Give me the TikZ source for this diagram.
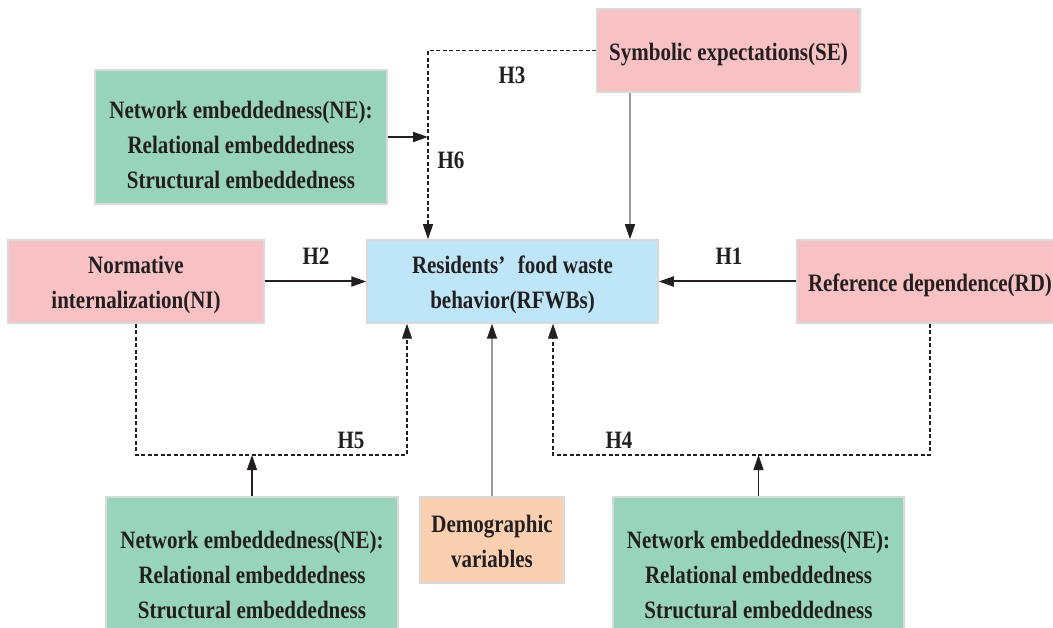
\documentclass[tikz,border=0pt]{standalone}
\usepackage{fontspec}
\usepackage{graphicx}
\setmainfont{Liberation Serif}
\usetikzlibrary{arrows.meta}
\definecolor{pinkbox}{HTML}{F8C1C3}
\definecolor{greenbox}{HTML}{98D4BC}
\definecolor{bluebox}{HTML}{BEE5F8}
\definecolor{orangebox}{HTML}{FBD0B1}
\definecolor{boxline}{HTML}{D9D9D9}
\definecolor{txt}{HTML}{231F20}
\definecolor{grayline}{HTML}{9A9A9A}
\newcommand{\narrowtext}[2][-3pt]{\raisebox{#1}[\height][\depth]{\scalebox{0.84}[1]{\begin{tabular}{@{}c@{}}#2\end{tabular}}}}
\begin{document}
\begin{tikzpicture}[x=1pt,y=-1pt,
  box/.style={draw=boxline,line width=1.5pt,align=center,inner sep=0pt,text=txt,
    font=\fontsize{25}{35}\selectfont\bfseries},
  lab/.style={text=txt,inner sep=0pt,font=\fontsize{25}{30}\selectfont\bfseries},
  tip/.style={-{Triangle[length=15pt,width=10pt,color=txt]}},
  solidarrow/.style={tip,line width=2pt,draw=txt},
  grayarrow/.style={tip,line width=1.5pt,draw=grayline},
  dasharrow/.style={tip,line width=1.2pt,draw=txt,dash pattern=on 4pt off 2.5pt},
  thinline/.style={tip,line width=1.2pt,draw=txt}]
\useasboundingbox (0,0) rectangle (1053,628);
% boxes
\node[box,fill=pinkbox,minimum width=263pt,minimum height=83pt] (SE) at (728.5,50.5) {\narrowtext{Symbolic expectations(SE)}};
\node[box,fill=greenbox,minimum width=292pt,minimum height=134pt] (NEtop) at (241,137) {\narrowtext[-10pt]{Network embeddedness(NE):\\Relational embeddedness\\Structural embeddedness}};
\node[box,fill=pinkbox,minimum width=256pt,minimum height=83pt] (NI) at (136,281.5) {\narrowtext{Normative\\internalization(NI)}};
\node[box,fill=bluebox,minimum width=291pt,minimum height=83pt] (RF) at (512.5,281.5) {\narrowtext{Residents’\hspace{0.6em}food waste\\behavior(RFWBs)}};
\node[box,fill=pinkbox,minimum width=266pt,minimum height=83pt] (RD) at (930,281.5) {\narrowtext{Reference dependence(RD)}};
\node[box,fill=greenbox,minimum width=292pt,minimum height=154pt] (NEbl) at (252,574) {\narrowtext[-2pt]{Network embeddedness(NE):\\Relational embeddedness\\Structural embeddedness}};
\node[box,fill=orangebox,minimum width=144pt,minimum height=86pt] (DV) at (492,540) {\narrowtext{Demographic\\variables}};
\node[box,fill=greenbox,minimum width=291pt,minimum height=154pt] (NEbr) at (758.5,574) {\narrowtext[-2pt]{Network embeddedness(NE):\\Relational embeddedness\\Structural embeddedness}};
% helper coordinates
\coordinate (seX) at (630,0);
\coordinate (h3c) at (428,50.5);
\coordinate (h6c) at (428,137);
\coordinate (h5r) at (407,455);
\coordinate (h5m) at (252,455);
\coordinate (h4l) at (553,455);
\coordinate (h4m) at (758.5,455);
% connectors
\draw[grayarrow] (SE.south -| seX) -- (RF.north -| seX);
\draw[dasharrow] (SE.west) -- (h3c) -- (RF.north -| h3c);
\draw[solidarrow] (NEtop.east) -- (h6c);
\draw[solidarrow] (NI.east) -- (RF.west);
\draw[solidarrow] (RD.west) -- (RF.east);
\draw[dasharrow] (NI.south) |- (h5r) -- (RF.south -| h5r);
\draw[dasharrow] (RD.south) |- (h4l) -- (RF.south -| h4l);
\draw[thinline] (NEbl.north) -- (h5m);
\draw[thinline] (NEbr.north) -- (h4m);
\draw[grayarrow] (DV.north) -- (RF.south -| DV.north);
% labels
\node[lab] (H3) at (512,75) {\narrowtext{H3}};
\node[lab] (H6) at (451,160) {\narrowtext{H6}};
\node[lab] (H2) at (316,256) {\narrowtext{H2}};
\node[lab] (H1) at (729,256) {\narrowtext{H1}};
\node[lab] (H5) at (351,439) {\narrowtext{H5}};
\node[lab] (H4) at (619,439) {\narrowtext{H4}};
\end{tikzpicture}
\end{document}
